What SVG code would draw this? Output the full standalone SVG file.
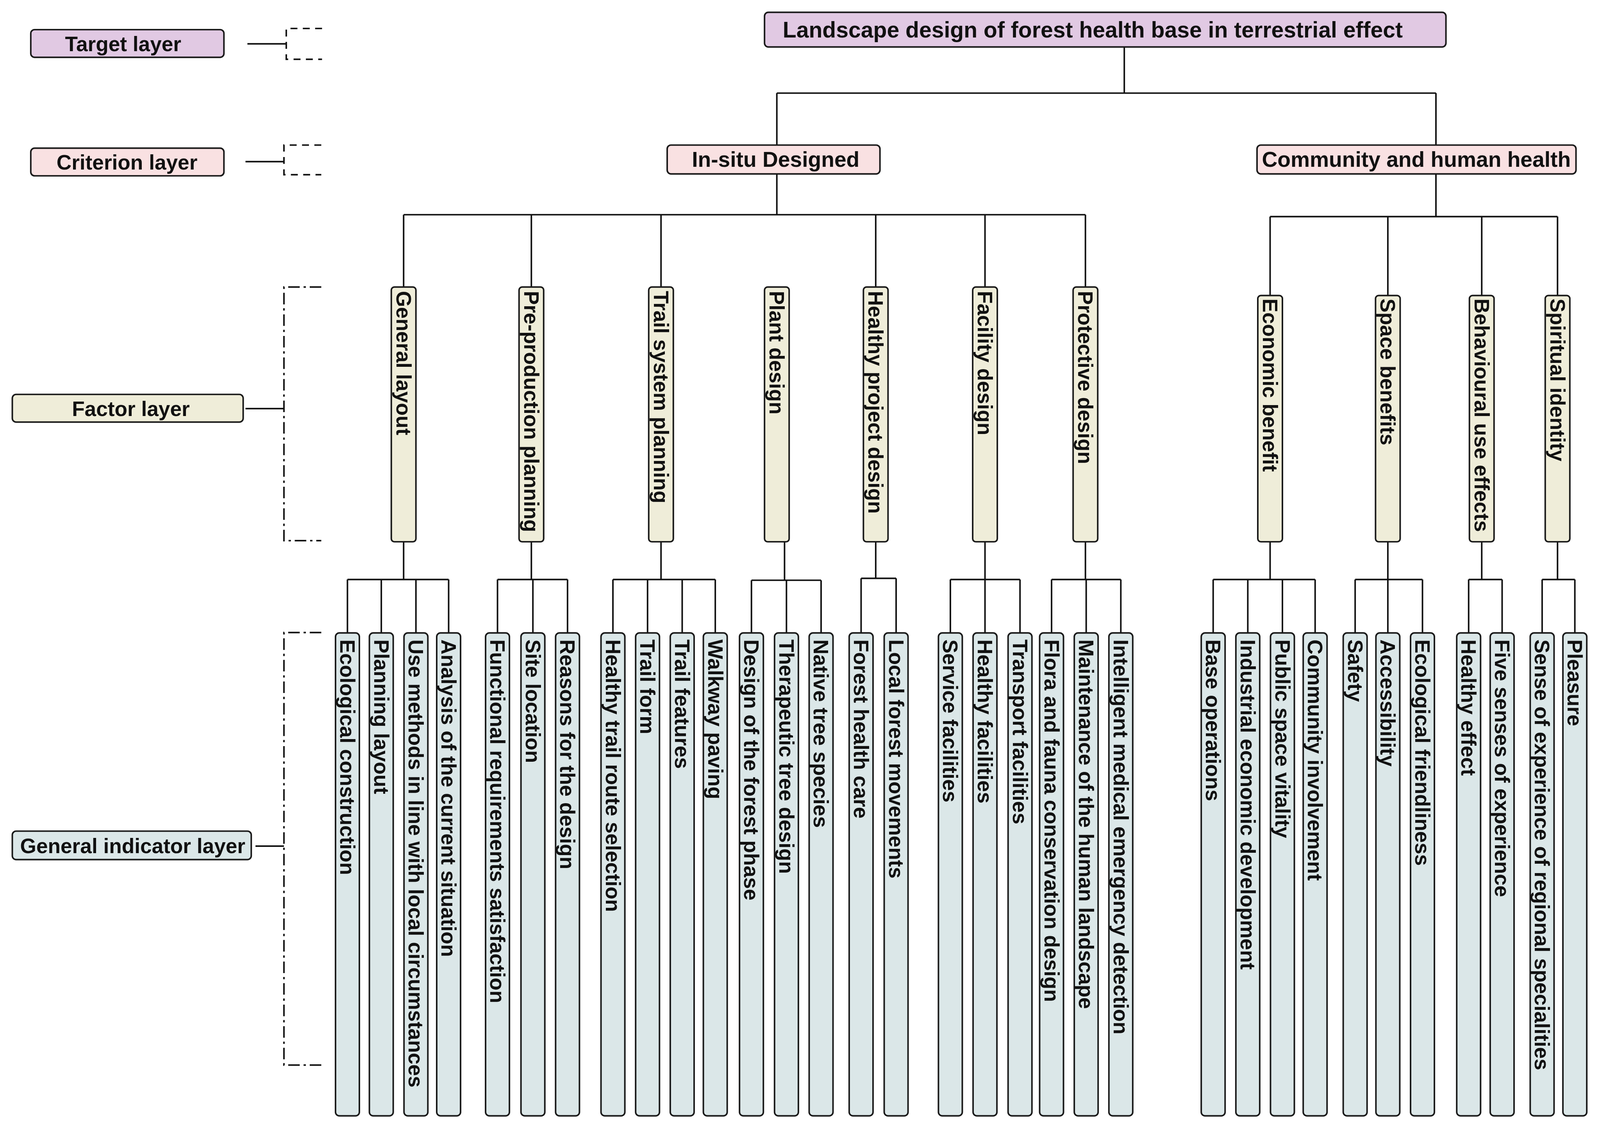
<svg xmlns="http://www.w3.org/2000/svg" width="4164" height="2926" viewBox="0 0 4164 2926">
<style>
.b{stroke:#1a1a1a;stroke-width:4}
.t{fill:#e1c9e3}.c{fill:#f9e1e2}.f{fill:#efedd9}.i{fill:#dbe7e8}
text{font-family:"Liberation Sans",Arial,sans-serif;font-weight:bold;fill:#111}
.h{font-size:54px;text-anchor:middle;dominant-baseline:central}
.hc{font-size:56px;text-anchor:middle;dominant-baseline:central}
.ht{font-size:58px;text-anchor:middle;dominant-baseline:central}
.v{font-size:54px;dominant-baseline:central}
.w{font-size:54px;dominant-baseline:central}
.l{stroke:#111;stroke-width:4;fill:none}
.d{stroke:#111;stroke-width:4;fill:none;stroke-dasharray:18 14}
.dd{stroke:#111;stroke-width:4;fill:none;stroke-dasharray:30 10 6 10}
</style>
<rect width="4164" height="2926" fill="#fff"/>
<g transform="scale(0.985)">
<g id="legend">
<g id="L1"><rect class="b t" x="80" y="77" width="502" height="72" rx="10"/><text class="h" x="320" y="114">Target layer</text></g>
<g id="L2"><rect class="b c" x="80" y="385" width="502" height="72" rx="10"/><text class="h" x="330" y="422">Criterion layer</text></g>
<g id="L3"><rect class="b f" x="32" y="1025" width="600" height="72" rx="10"/><text class="h" x="340" y="1062">Factor  layer</text></g>
<g id="L4"><rect class="b i" x="32" y="2160" width="621" height="74" rx="10"/><text class="h" x="345" y="2198">General indicator layer</text></g>
<path class="l" d="M643 114H744M638 420H738M638 1062H738M664 2199H738"/>
<path class="d" d="M837 74H744V154H837M835 377H738V454H835"/>
<path class="dd" d="M835 746H738V1405H835M835 1644H738V2768H835"/>
</g>
<g id="connectors" class="l">
<path d="M2922 122V242M2019 242H3732M2019 242V377M3732 242V377"/>
<path d="M2019 452V558M1049 558H2821M1049 558V746M1381 558V746M1718 558V746M2276 558V746M2560 558V746M2821 558V746"/>
<path d="M3732 452V563M3301 563H4048M3301 563V768M3607 563V768M3851 563V768M4048 563V768"/>
<path d="M1049 1408V1506M903 1506H1166M903 1506V1645M991 1506V1645M1081 1506V1645M1166 1506V1645"/>
<path d="M1381 1408V1506M1293 1506H1475M1293 1506V1645M1385 1506V1645M1475 1506V1645"/>
<path d="M1718 1408V1506M1593 1506H1859M1593 1506V1645M1683 1506V1645M1773 1506V1645M1859 1506V1645"/>
<path d="M2039 1408V1508M1953 1508H2134M1953 1508V1645M2044 1508V1645M2134 1508V1645"/>
<path d="M2276 1408V1503M2238 1503H2329M2238 1503V1645M2329 1503V1645"/>
<path d="M2560 1408V1506M2470 1506H2651M2470 1506V1645M2560 1506V1645M2651 1506V1645"/>
<path d="M2821 1408V1506M2733 1506H2913M2733 1506V1645M2823 1506V1645M2913 1506V1645"/>
<path d="M3301 1408V1506M3153 1506H3418M3153 1506V1645M3243 1506V1645M3333 1506V1645M3418 1506V1645"/>
<path d="M3607 1408V1506M3522 1506H3697M3522 1506V1645M3607 1506V1645M3697 1506V1645"/>
<path d="M3851 1408V1506M3817 1506H3904M3817 1506V1645M3904 1506V1645"/>
<path d="M4048 1408V1506M4008 1506H4093M4008 1506V1645M4093 1506V1645"/>
</g>
<g id="target"><rect class="b t" x="1987" y="32" width="1771" height="90" rx="10"/><text class="ht" x="2840" y="77">Landscape design of forest health base in terrestrial effect</text></g>
<g id="crit1"><rect class="b c" x="1734" y="377" width="553" height="75" rx="10"/><text class="hc" x="2016" y="414">In-situ Designed</text></g>
<g id="crit2"><rect class="b c" x="3267" y="377" width="829" height="75" rx="10"/><text class="hc" x="3681" y="414">Community and human health</text></g>
<g id="f1"><rect class="b f" x="1017" y="746" width="64" height="662" rx="8"/><text class="v" transform="translate(1049 756) rotate(90)">General layout</text></g>
<g id="f2"><rect class="b f" x="1349" y="746" width="64" height="662" rx="8"/><text class="v" transform="translate(1381 756) rotate(90)">Pre-production planning</text></g>
<g id="f3"><rect class="b f" x="1686" y="746" width="64" height="662" rx="8"/><text class="v" transform="translate(1718 756) rotate(90)">Trail system planning</text></g>
<g id="f4"><rect class="b f" x="1987" y="746" width="64" height="662" rx="8"/><text class="v" transform="translate(2019 756) rotate(90)">Plant design</text></g>
<g id="f5"><rect class="b f" x="2244" y="746" width="64" height="662" rx="8"/><text class="v" transform="translate(2276 756) rotate(90)">Healthy project design</text></g>
<g id="f6"><rect class="b f" x="2528" y="746" width="64" height="662" rx="8"/><text class="v" transform="translate(2560 756) rotate(90)">Facility design</text></g>
<g id="f7"><rect class="b f" x="2789" y="746" width="64" height="662" rx="8"/><text class="v" transform="translate(2821 756) rotate(90)">Protective design</text></g>
<g id="f8"><rect class="b f" x="3269" y="768" width="64" height="640" rx="8"/><text class="v" transform="translate(3301 776) rotate(90)">Economic benefit</text></g>
<g id="f9"><rect class="b f" x="3575" y="768" width="64" height="640" rx="8"/><text class="v" transform="translate(3607 776) rotate(90)">Space benefits</text></g>
<g id="f10"><rect class="b f" x="3819" y="768" width="64" height="640" rx="8"/><text class="v" transform="translate(3851 776) rotate(90)">Behavioural use effects</text></g>
<g id="f11"><rect class="b f" x="4016" y="768" width="64" height="640" rx="8"/><text class="v" transform="translate(4048 776) rotate(90)">Spiritual identity</text></g>
<g id="i1"><rect class="b i" x="872" y="1645" width="62" height="1255" rx="10"/><text class="w" transform="translate(903 1662) rotate(90)">Ecological construction</text></g>
<g id="i2"><rect class="b i" x="960" y="1645" width="62" height="1255" rx="10"/><text class="w" transform="translate(991 1662) rotate(90)">Planning layout</text></g>
<g id="i3"><rect class="b i" x="1050" y="1645" width="62" height="1255" rx="10"/><text class="w" transform="translate(1081 1662) rotate(90)">Use methods in line with local circumstances</text></g>
<g id="i4"><rect class="b i" x="1135" y="1645" width="62" height="1255" rx="10"/><text class="w" transform="translate(1166 1662) rotate(90)">Analysis of the current situation</text></g>
<g id="i5"><rect class="b i" x="1262" y="1645" width="62" height="1255" rx="10"/><text class="w" transform="translate(1293 1662) rotate(90)">Functional requirements satisfaction</text></g>
<g id="i6"><rect class="b i" x="1354" y="1645" width="62" height="1255" rx="10"/><text class="w" transform="translate(1385 1662) rotate(90)">Site location</text></g>
<g id="i7"><rect class="b i" x="1444" y="1645" width="62" height="1255" rx="10"/><text class="w" transform="translate(1475 1662) rotate(90)">Reasons for the design</text></g>
<g id="i8"><rect class="b i" x="1562" y="1645" width="62" height="1255" rx="10"/><text class="w" transform="translate(1593 1662) rotate(90)">Healthy trail route selection</text></g>
<g id="i9"><rect class="b i" x="1652" y="1645" width="62" height="1255" rx="10"/><text class="w" transform="translate(1683 1662) rotate(90)">Trail form</text></g>
<g id="i10"><rect class="b i" x="1742" y="1645" width="62" height="1255" rx="10"/><text class="w" transform="translate(1773 1662) rotate(90)">Trail features</text></g>
<g id="i11"><rect class="b i" x="1828" y="1645" width="62" height="1255" rx="10"/><text class="w" transform="translate(1859 1662) rotate(90)">Walkway paving</text></g>
<g id="i12"><rect class="b i" x="1922" y="1645" width="62" height="1255" rx="10"/><text class="w" transform="translate(1953 1662) rotate(90)">Design of the forest phase</text></g>
<g id="i13"><rect class="b i" x="2013" y="1645" width="62" height="1255" rx="10"/><text class="w" transform="translate(2044 1662) rotate(90)">Therapeutic tree design</text></g>
<g id="i14"><rect class="b i" x="2103" y="1645" width="62" height="1255" rx="10"/><text class="w" transform="translate(2134 1662) rotate(90)">Native tree species</text></g>
<g id="i15"><rect class="b i" x="2207" y="1645" width="62" height="1255" rx="10"/><text class="w" transform="translate(2238 1662) rotate(90)">Forest health care</text></g>
<g id="i16"><rect class="b i" x="2298" y="1645" width="62" height="1255" rx="10"/><text class="w" transform="translate(2329 1662) rotate(90)">Local forest movements</text></g>
<g id="i17"><rect class="b i" x="2439" y="1645" width="62" height="1255" rx="10"/><text class="w" transform="translate(2470 1662) rotate(90)">Service facilities</text></g>
<g id="i18"><rect class="b i" x="2529" y="1645" width="62" height="1255" rx="10"/><text class="w" transform="translate(2560 1662) rotate(90)">Healthy facilities</text></g>
<g id="i19"><rect class="b i" x="2620" y="1645" width="62" height="1255" rx="10"/><text class="w" transform="translate(2651 1662) rotate(90)">Transport facilities</text></g>
<g id="i20"><rect class="b i" x="2702" y="1645" width="62" height="1255" rx="10"/><text class="w" transform="translate(2733 1662) rotate(90)">Flora and fauna conservation design</text></g>
<g id="i21"><rect class="b i" x="2792" y="1645" width="62" height="1255" rx="10"/><text class="w" transform="translate(2823 1662) rotate(90)">Maintenance of the human landscape</text></g>
<g id="i22"><rect class="b i" x="2882" y="1645" width="62" height="1255" rx="10"/><text class="w" transform="translate(2913 1662) rotate(90)">Intelligent medical emergency detection</text></g>
<g id="i23"><rect class="b i" x="3122" y="1645" width="62" height="1255" rx="10"/><text class="w" transform="translate(3153 1662) rotate(90)">Base operations</text></g>
<g id="i24"><rect class="b i" x="3212" y="1645" width="62" height="1255" rx="10"/><text class="w" transform="translate(3243 1662) rotate(90)">Industrial economic development</text></g>
<g id="i25"><rect class="b i" x="3302" y="1645" width="62" height="1255" rx="10"/><text class="w" transform="translate(3333 1662) rotate(90)">Public space vitality</text></g>
<g id="i26"><rect class="b i" x="3387" y="1645" width="62" height="1255" rx="10"/><text class="w" transform="translate(3418 1662) rotate(90)">Community involvement</text></g>
<g id="i27"><rect class="b i" x="3491" y="1645" width="62" height="1255" rx="10"/><text class="w" transform="translate(3522 1662) rotate(90)">Safety</text></g>
<g id="i28"><rect class="b i" x="3576" y="1645" width="62" height="1255" rx="10"/><text class="w" transform="translate(3607 1662) rotate(90)">Accessibility</text></g>
<g id="i29"><rect class="b i" x="3666" y="1645" width="62" height="1255" rx="10"/><text class="w" transform="translate(3697 1662) rotate(90)">Ecological friendliness</text></g>
<g id="i30"><rect class="b i" x="3786" y="1645" width="62" height="1255" rx="10"/><text class="w" transform="translate(3817 1662) rotate(90)">Healthy effect</text></g>
<g id="i31"><rect class="b i" x="3873" y="1645" width="62" height="1255" rx="10"/><text class="w" transform="translate(3904 1662) rotate(90)">Five senses of experience</text></g>
<g id="i32"><rect class="b i" x="3977" y="1645" width="62" height="1255" rx="10"/><text class="w" transform="translate(4008 1662) rotate(90)">Sense of experience of regional specialities</text></g>
<g id="i33"><rect class="b i" x="4062" y="1645" width="62" height="1255" rx="10"/><text class="w" transform="translate(4093 1662) rotate(90)">Pleasure</text></g>
</g>
</svg>
